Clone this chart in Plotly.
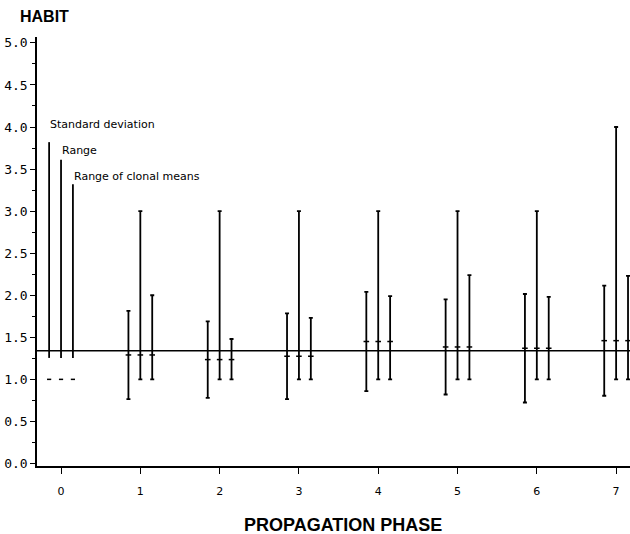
import plotly.graph_objects as go

# ---- data ----
phases = [1, 2, 3, 4, 5, 6, 7]
means = [1.29, 1.235, 1.275, 1.45, 1.385, 1.37, 1.46]
sd = [0.525, 0.455, 0.51, 0.59, 0.565, 0.645, 0.655]
range_min = [1.0, 1.0, 1.0, 1.0, 1.0, 1.0, 1.0]
range_max = [3.0, 3.0, 3.0, 3.0, 3.0, 3.0, 4.0]
clonal_min = [1.0, 1.0, 1.0, 1.0, 1.0, 1.0, 1.0]
clonal_max = [2.0, 1.48, 1.73, 1.99, 2.24, 1.98, 2.23]
grand_mean = 1.34

legend_labels = ["Standard deviation", "Range", "Range of clonal means"]
legend_tops = [3.82, 3.61, 3.32]
legend_base = 1.255
legend_dash = 1.0
legend_text_y = [4.03, 3.72, 3.41]
offsets = [-0.15, 0.0, 0.15]

x_ticks = [0, 1, 2, 3, 4, 5, 6, 7]
y_ticks = [0.0, 0.5, 1.0, 1.5, 2.0, 2.5, 3.0, 3.5, 4.0, 4.5, 5.0]

fig = go.Figure()

INK = "black"

def add_bar(off, lo_list, hi_list):
    xs = [p + off for p in phases]
    plus = [h - m for h, m in zip(hi_list, means)]
    minus = [m - l for l, m in zip(lo_list, means)]
    fig.add_trace(go.Scatter(
        x=xs, y=means, mode="markers",
        marker=dict(symbol="line-ew", size=4, line=dict(color=INK, width=1.5)),
        error_y=dict(type="data", symmetric=False, array=plus, arrayminus=minus,
                     color=INK, thickness=1.8, width=2),
        showlegend=False, hoverinfo="skip"))

add_bar(offsets[0], [m - s for m, s in zip(means, sd)], [m + s for m, s in zip(means, sd)])
add_bar(offsets[1], range_min, range_max)
add_bar(offsets[2], clonal_min, clonal_max)

# legend key at phase 0
for off, top, lab, ty in zip(offsets, legend_tops, legend_labels, legend_text_y):
    fig.add_trace(go.Scatter(x=[off, off], y=[legend_base, top], mode="lines",
                             line=dict(color=INK, width=1.8),
                             showlegend=False, hoverinfo="skip"))
    fig.add_annotation(x=off, y=ty, text=lab, showarrow=False, xanchor="left",
                       yanchor="middle", xshift=-1,
                       font=dict(family="DejaVu Sans", size=11, color=INK))
fig.add_trace(go.Scatter(x=offsets, y=[legend_dash] * 3, mode="markers",
                         marker=dict(symbol="line-ew", size=3, line=dict(color=INK, width=1.5)),
                         showlegend=False, hoverinfo="skip"))

# grand mean line
fig.add_shape(type="line", xref="paper", yref="y", x0=0, x1=1, y0=grand_mean, y1=grand_mean,
              line=dict(color=INK, width=1.5))

fig.add_annotation(xref="paper", yref="paper", x=-0.032, y=1.0, yshift=21, text="<b>HABIT</b>",
                   showarrow=False, xanchor="left", yanchor="middle",
                   font=dict(family="Liberation Sans", size=16, color=INK))
fig.add_annotation(xref="paper", yref="paper", x=(343 - 37) / 593, y=0, yshift=-59,
                   text="<b>PROPAGATION PHASE</b>", showarrow=False, xanchor="center",
                   yanchor="middle",
                   font=dict(family="Liberation Sans", size=18, color=INK))

fig.update_layout(
    width=630, height=534,
    margin=dict(l=37, r=0, t=37, b=68),
    paper_bgcolor="white", plot_bgcolor="white",
    xaxis=dict(range=[-0.303, 7.175], tickmode="array", tickvals=x_ticks,
               ticktext=[str(t) for t in x_ticks], showgrid=False, zeroline=False,
               showline=True, linecolor=INK, linewidth=1.5,
               ticks="outside", ticklen=6, tickwidth=1.2, tickcolor=INK,
               ticklabelstandoff=8,
               tickfont=dict(family="DejaVu Sans", size=11, color=INK)),
    yaxis=dict(range=[-0.03, 5.07], tickmode="array", tickvals=y_ticks,
               ticktext=["%.1f" % t for t in y_ticks], showgrid=False, zeroline=False,
               showline=True, linecolor=INK, linewidth=1.5,
               ticks="outside", ticklen=5, tickwidth=1.2, tickcolor=INK,
               minor=dict(dtick=0.25, ticks="outside", ticklen=3, tickcolor=INK, showgrid=False),
               tickfont=dict(family="DejaVu Sans Mono", size=13, color=INK)),
)

fig.write_html("out.html")
